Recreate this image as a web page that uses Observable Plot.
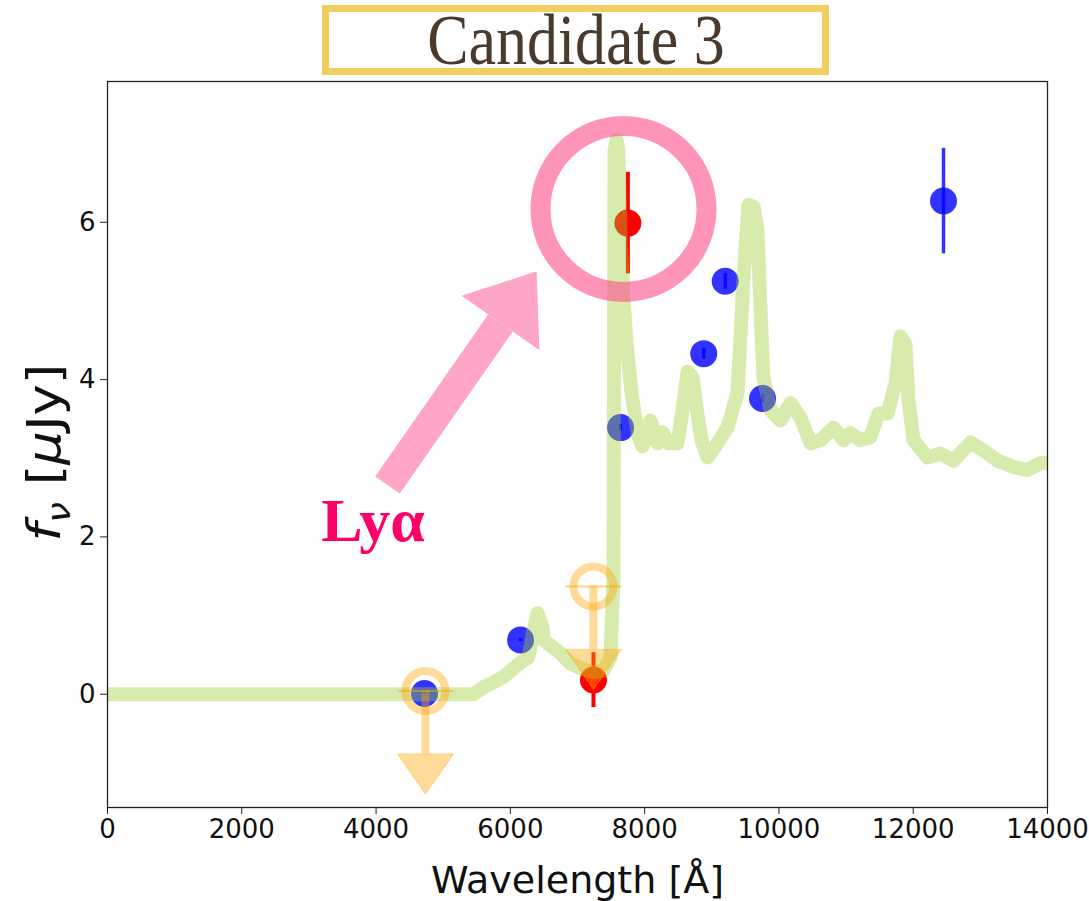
<!DOCTYPE html>
<html><head><meta charset="utf-8">
<script src="https://cdn.jsdelivr.net/npm/d3@7"></script>
<script src="https://cdn.jsdelivr.net/npm/@observablehq/plot@0.6"></script>
<style>
body{margin:0;background:#fff;}
#title{position:relative;height:80px;width:1089px;}
#title .box{position:absolute;left:322px;top:5px;width:507px;height:70px;box-sizing:border-box;border:7px solid #f2cd60;display:flex;align-items:center;justify-content:center;font-family:"Liberation Serif","Times New Roman",serif;font-size:72px;line-height:1;color:#4a3a2c;overflow:visible;}
#title .box span{display:inline-block;transform:scaleX(0.86);white-space:nowrap;}
</style></head><body>
<div id="title"><div class="box"><span>Candidate 3</span></div></div>
<div id="chart"></div>
<script>
// Model spectrum (wavelength [Å], flux [μJy])
const specWave = [0, 5450, 5600, 5749, 5898, 6047, 6151, 6270, 6345, 6404, 6479, 6494, 6598, 6747, 6896, 7045, 7238, 7387, 7492, 7536, 7551, 7581, 7611, 7641, 7685, 7730, 7804, 7900, 7968, 8087, 8192, 8266, 8356, 8490, 8564, 8639, 8713, 8788, 8847, 8937, 9085, 9234, 9383, 9473, 9547, 9621, 9681, 9726, 9770, 9875, 10024, 10173, 10321, 10470, 10619, 10813, 10962, 11066, 11215, 11364, 11483, 11617, 11736, 11811, 11885, 11930, 12004, 12213, 12407, 12600, 12854, 13047, 13256, 13494, 13702, 13896, 14000];
const specFlux = [0, 0, 0.09, 0.15, 0.22, 0.33, 0.40, 0.47, 0.81, 1.03, 0.85, 0.69, 0.62, 0.52, 0.39, 0.33, 0.28, 0.30, 0.47, 1.5, 6.9, 7.05, 6.9, 5.8, 5.05, 4.46, 3.83, 3.3, 3.15, 3.48, 3.19, 3.33, 3.19, 3.19, 3.61, 4.10, 4.03, 3.55, 3.23, 3.01, 3.19, 3.39, 3.83, 5.30, 6.22, 6.20, 5.9, 4.88, 4.03, 3.61, 3.48, 3.70, 3.52, 3.19, 3.23, 3.39, 3.23, 3.32, 3.23, 3.27, 3.57, 3.57, 3.95, 4.55, 4.45, 3.74, 3.23, 3.01, 3.06, 2.97, 3.20, 3.10, 2.97, 2.89, 2.85, 2.94, 2.94];

// Broad-band photometry (blue)
const bandWave = [4721, 6151, 7641, 8880, 9200, 9756, 12451];
const bandFlux = [0.01, 0.69, 3.39, 4.33, 5.25, 3.76, 6.27];
const bandErr  = [0.02, 0.02, 0.04, 0.07, 0.10, 0.06, 0.67];

// Narrow-band photometry (red)
const nbWave = [7238, 7750];
const nbFlux = [0.18, 5.99];
const nbErr  = [0.35, 0.645];

// Upper limits (orange)
const ulWave = [4736, 7238];
const ulFlux = [0.04, 1.37];

// Lyα annotation
const lyaRing  = {wave: 7685, flux: 6.17};
const lyaTail  = {wave: 4170, flux: 2.66};
const lyaHead  = {wave: 5853, flux: 4.72};
const lyaLabel = {wave: 3954, flux: 2.20, text: "Lyα"};

const xTicks = [0, 2000, 4000, 6000, 8000, 10000, 12000, 14000];
const yTicks = [0, 2, 4, 6];
const xLabel = "Wavelength [Å]";
const yLabel = "fν [μJy]";

const spec = specWave.map((w, i) => ({w, f: specFlux[i]}));
const band = bandWave.map((w, i) => ({w, f: bandFlux[i], e: bandErr[i]}));
const nb = nbWave.map((w, i) => ({w, f: nbFlux[i], e: nbErr[i]}));
const ul = ulWave.map((w, i) => ({w, f: ulFlux[i]}));
const arrowDrop = 0.8;

const downTriangle = {draw(ctx) { ctx.moveTo(-28, 0); ctx.lineTo(28, 0); ctx.lineTo(0, 40); ctx.closePath(); }};
const capLine = {draw(ctx) { ctx.moveTo(-28, 0); ctx.lineTo(28, 0); }};
const upHead = {draw(ctx) { ctx.moveTo(-47.5, 0); ctx.lineTo(47.5, 0); ctx.lineTo(0, -63); ctx.closePath(); }};

const svg = Plot.plot({
  width: 1089, height: 821,
  marginTop: 1, marginBottom: 94, marginLeft: 107, marginRight: 42,
  style: {fontFamily: "DejaVu Sans", background: "white", overflow: "hidden"},
  x: {domain: [0, 14000]},
  y: {domain: [-1.44, 7.79]},
  marks: [
    Plot.axisX({ticks: xTicks, tickFormat: d3.format("d"), tickSize: 7, tickPadding: 5, fontSize: 26, label: null, stroke: "#222", fill: "#111"}),
    Plot.axisY({ticks: yTicks, tickFormat: d3.format("d"), tickSize: 7, tickPadding: 5, fontSize: 26, label: null, stroke: "#222", fill: "#111"}),
    // blue photometry
    Plot.dot(band, {x: "w", y: "f", r: 13.5, fill: "blue", fillOpacity: 0.8}),
    Plot.ruleX(band, {x: "w", y1: d => d.f - d.e, y2: d => d.f + d.e, stroke: "blue", strokeOpacity: 0.8, strokeWidth: 3.5}),
    // red narrow band
    Plot.dot(nb, {x: "w", y: "f", r: 13.5, fill: "red"}),
    Plot.ruleX(nb, {x: "w", y1: d => d.f - d.e, y2: d => d.f + d.e, stroke: "red", strokeWidth: 4}),
    // model spectrum
    Plot.line(spec, {x: "w", y: "f", stroke: "#9acd32", strokeOpacity: 0.4, strokeWidth: 14, strokeLinejoin: "round", strokeLinecap: "butt"}),
    // upper limits
    Plot.dot(ul, {x: "w", y: "f", r: 20, stroke: "orange", strokeOpacity: 0.4, strokeWidth: 8, fill: "none"}),
    Plot.dot(ul, {x: "w", y: "f", symbol: capLine, stroke: "orange", strokeOpacity: 0.5, strokeWidth: 2}),
    Plot.ruleX(ul, {x: "w", y1: "f", y2: d => d.f - arrowDrop, stroke: "orange", strokeOpacity: 0.4, strokeWidth: 8}),
    Plot.dot(ul, {x: "w", y: d => d.f - arrowDrop, symbol: downTriangle, fill: "orange", fillOpacity: 0.4, stroke: "orange", strokeOpacity: 0.4, strokeWidth: 1}),
    // Lyα annotation
    Plot.dot([lyaRing], {x: "wave", y: "flux", r: 83, stroke: "#ff4d8d", strokeOpacity: 0.6, strokeWidth: 20, fill: "none"}),
    Plot.link([0], {x1: () => lyaTail.wave, y1: () => lyaTail.flux, x2: () => lyaHead.wave, y2: () => lyaHead.flux, stroke: "#ffa5c7", strokeWidth: 30, strokeLinecap: "butt"}),
    Plot.dot([lyaHead], {x: "wave", y: "flux", symbol: upHead, rotate: 35, fill: "#ffa5c7", stroke: "none"}),
    Plot.text([lyaLabel], {x: "wave", y: "flux", text: "text", fontFamily: "Liberation Serif", fontWeight: "bold", fontSize: 62, fill: "#ff0066", lineAnchor: "middle"}),
    // axis labels
    Plot.text([xLabel], {frameAnchor: "bottom", dy: 73, text: d => d, fontSize: 38, fill: "#111", lineAnchor: "middle", textAnchor: "middle"}),
    Plot.text([yLabel], {frameAnchor: "left", dx: -62, dy: 8, rotate: -90, text: d => d, fontSize: 46, fill: "#111", lineAnchor: "middle", textAnchor: "middle"}),
    Plot.frame({stroke: "#222", strokeWidth: 1.3})
  ]
});

// mathtext-like y label: italic f with subscript ν, stretched along its length like the reference
const yl = d3.select(svg).selectAll("text").filter(function() { return this.textContent === yLabel; });
yl.text(null);
yl.append("tspan").attr("font-style", "italic").text("f");
yl.append("tspan").attr("font-style", "italic").attr("font-size", "0.7em").attr("dy", "0.3em").text("ν");
yl.append("tspan").attr("dy", "-0.21em").text(" [");
yl.append("tspan").attr("font-style", "italic").text("μ");
yl.append("tspan").text("Jy]");
yl.each(function() {
  const t = this.getAttribute("transform") || "";
  this.setAttribute("transform", t + " scale(1.15,1)");
});

document.getElementById("chart").appendChild(svg);
</script>
</body></html>
